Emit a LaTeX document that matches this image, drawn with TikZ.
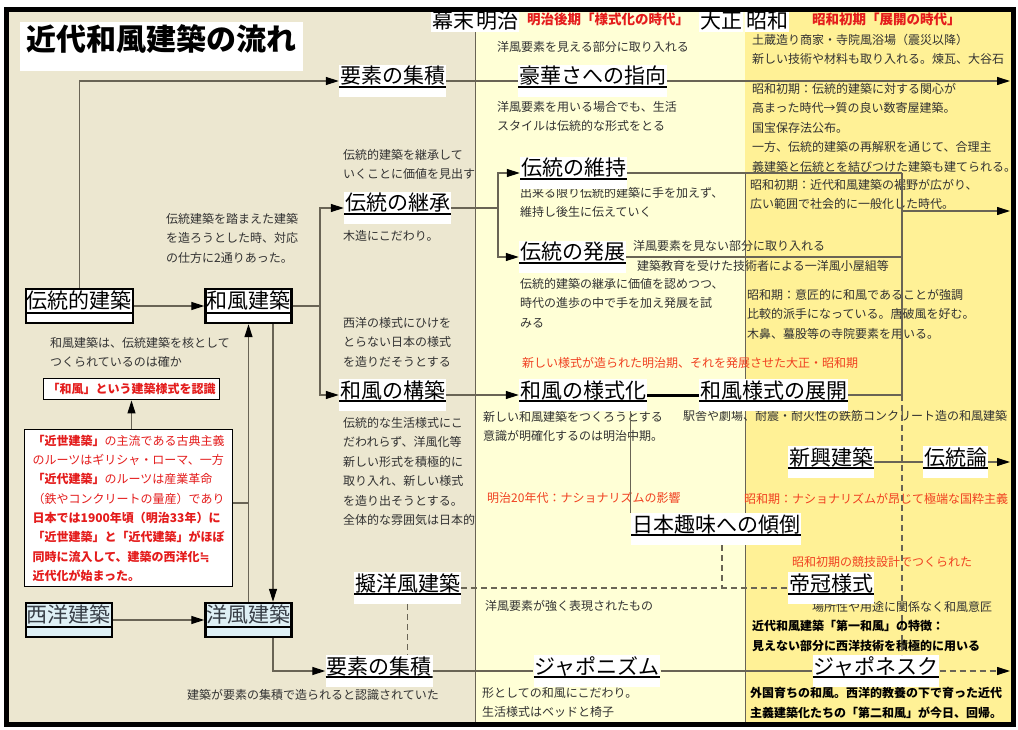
\documentclass[tikz,border=0pt]{standalone}
\usepackage{fontspec}
\setmainfont{Noto Sans CJK JP}
\newfontfamily\djv{DejaVu Sans}
\usetikzlibrary{arrows.meta,calc}
\definecolor{beige}{RGB}{236,231,208}
\definecolor{pale}{RGB}{255,255,214}
\definecolor{yel}{RGB}{255,241,150}
\definecolor{lgrey}{RGB}{105,100,85}
\definecolor{txt}{RGB}{50,50,50}
\definecolor{rd}{RGB}{228,28,28}
\definecolor{ord}{RGB}{240,64,32}
\definecolor{lblue}{RGB}{222,240,245}
\definecolor{bgrey}{RGB}{55,62,70}
\begin{document}
\begin{tikzpicture}[x=1pt,y=-1pt,
  nd/.style={fill=white, inner xsep=1pt, inner ysep=4pt, text height=15pt, text depth=9pt,
    font=\fontsize{21}{21}\selectfont,
    path picture={\draw[line width=1.6pt] ([yshift=10pt]path picture bounding box.south west) -- ([yshift=10pt]path picture bounding box.south east);}},
  bx/.style={draw=black, line width=2.4pt, fill=white, inner xsep=1pt, inner ysep=6pt, text height=13.5pt, text depth=8.5pt,
    font=\fontsize{21}{21}\selectfont,
    path picture={\draw[line width=1.4pt] ([yshift=10pt]path picture bounding box.south west) -- ([yshift=10pt]path picture bounding box.south east);}},
  bxb/.style={bx, fill=lblue, text=bgrey},
  era/.style={fill=white, inner sep=1pt, font=\fontsize{21}{21}\selectfont},
  hd/.style={anchor=west, inner sep=0pt, text=rd, font=\fontsize{13.5}{14}\selectfont\bfseries},
  ann/.style={anchor=north west, inner sep=0pt, align=left, text=txt, font=\fontsize{12}{19.5}\selectfont},
  annr/.style={ann, text=ord},
  annb/.style={ann, text=black, font=\fontsize{12}{19.5}\selectfont\bfseries},
  cn/.style={draw=lgrey, line width=1.1pt},
  dsh/.style={dash pattern=on 6pt off 4pt},
  ar/.style={cn, -{Triangle[length=13pt,width=8pt,color=black]}}
]
\useasboundingbox (0,0) rectangle (1018,730);
\fill[white] (0,0) rectangle (1018,730);
% background regions
\fill[beige] (6,10) rectangle (475,724);
\fill[pale] (475,10) rectangle (745,724);
\fill[yel] (745,10) rectangle (1013,724);
\draw[lgrey, line width=0.8pt] (475,12) -- (475,722);
\draw[lgrey, line width=0.8pt] (745,173) -- (745,722);

% title and era headings
\node[fill=white, inner xsep=2pt, inner ysep=0pt, text height=29pt, text depth=20pt, minimum width=283pt,
  font=\fontsize{30}{30}\selectfont\bfseries] (title) at (161.5,46.5) {近代和風建築の流れ};
\node[era] (bm) at (453,21) {幕末};
\node[era] (mj) at (497,21) {明治};
\node[hd] (h1) at (527,19) {明治後期「様式化の時代」};
\node[era] (ts) at (721,21) {大正};
\node[era] (sw) at (767,21) {昭和};
\node[hd] (h2) at (812,19) {昭和初期「展開の時代」};

% annotations
\node[ann] (t1) at (166,213) {伝統建築を踏まえた建築\\を造ろうとした時、対応\\の仕方に2通りあった。};
\node[ann] (t2) at (50,337) {和風建築は、伝統建築を核として\\つくられているのは確か};
\node[ann] (t5) at (343,149) {伝統的建築を継承して\\いくことに価値を見出す};
\node[ann] (t6) at (343,230) {木造にこだわり。};
\node[ann] (t7) at (343,317) {西洋の様式にひけを\\とらない日本の様式\\を造りだそうとする};
\node[ann] (t8) at (343,417) {伝統的な生活様式にこ\\だわれらず、洋風化等\\新しい形式を積極的に\\取り入れ、新しい様式\\を造り出そうとする。\\全体的な雰囲気は日本的};
\node[ann] (t9) at (497,41) {洋風要素を見える部分に取り入れる};
\node[ann] (t10) at (497,101) {洋風要素を用いる場合でも、生活\\スタイルは伝統的な形式をとる};
\node[ann] (t11) at (520,187) {出来る限り伝統的建築に手を加えず、\\維持し後生に伝えていく};
\node[ann] (t12) at (633,240) {洋風要素を見ない部分に取り入れる};
\node[ann] (t13) at (637,260) {建築教育を受けた技術者による一洋風小屋組等};
\node[ann] (t14) at (520,278) {伝統的建築の継承に価値を認めつつ、\\時代の進歩の中で手を加え発展を試\\みる};
\node[annr] (t15) at (522,357) {新しい様式が造られた明治期、それを発展させた大正・昭和期};
\node[ann] (t16) at (483,411) {新しい和風建築をつくろうとする\\意識が明確化するのは明治中期。};
\node[ann] (t17) at (683,410) {駅舎や劇場、耐震・耐火性の鉄筋コンクリート造の和風建築};
\node[annr] (t18) at (487,492) {明治20年代：ナショナリズムの影響};
\node[annr] (t19) at (744,493) {昭和期：ナショナリズムが昂じて極端な国粋主義};
\node[annr] (t20) at (792,556) {昭和初期の競技設計でつくられた};
\node[ann] (t21) at (812,601) {場所性や用途に関係なく和風意匠};
\node[annb] (t22) at (752,620) {近代和風建築「第一和風」の特徴：\\見えない部分に西洋技術を積極的に用いる};
\node[ann] (t23) at (485,600) {洋風要素が強く表現されたもの};
\node[ann] (t24) at (187,689) {建築が要素の集積で造られると認識されていた};
\node[ann] (t25) at (482,687) {形としての和風にこだわり。\\生活様式はベッドと椅子};
\node[annb] (t26) at (750,687) {外国育ちの和風。西洋的教養の下で育った近代\\主義建築化たちの「第二和風」が今日、回帰。};
\node[ann] (t27) at (752,34) {土蔵造り商家・寺院風浴場（震災以降）\\新しい技術や材料も取り入れる。煉瓦、大谷石};
\node[ann] (t28) at (752,83) {昭和初期：伝統的建築に対する関心が\\高まった時代→質の良い数寄屋建築。\\国宝保存法公布。\\一方、伝統的建築の再解釈を通じて、合理主\\義建築と伝統とを結びつけた建築も建てられる。};
\node[ann] (t29) at (750,179) {昭和初期：近代和風建築の裾野が広がり、\\広い範囲で社会的に一般化した時代。};
\node[ann] (t30) at (747,289) {昭和期：意匠的に和風であることが強調\\比較的派手になっている。唐破風を好む。\\木鼻、蟇股等の寺院要素を用いる。};

% red boxes
\node[draw=black, line width=1.4pt, fill=white, inner xsep=4pt, inner ysep=5pt, text=rd,
  font=\fontsize{12}{13}\selectfont\bfseries] (ab) at (131.5,389) {「和風」という建築様式を認識};
\node[draw=black, line width=1.4pt, fill=white, anchor=north west, inner xsep=5pt, inner ysep=4pt,
  minimum width=208pt, minimum height=157pt, align=left, text=rd, font=\fontsize{12}{19.3}\selectfont] (rb) at (24,429)
 {{\bfseries 「近世建築」}の主流である古典主義\\
 のルーツはギリシャ・ローマ、一方\\
 {\bfseries 「近代建築」}のルーツは産業革命\\
 （鉄やコンクリートの量産）であり\\
 {\bfseries 日本では1900年頃（明治33年）に}\\
 {\bfseries 「近世建築」と「近代建築」がほぼ}\\
 {\bfseries 同時に流入して、建築の西洋化{\djv\bfseries ≒}}\\
 {\bfseries 近代化が始まった。}};

% left boxes
\node[bx] (b1) at (79.5,306) {伝統的建築};
\node[bx] (b2) at (248.5,306) {和風建築};
\node[bxb] (b3) at (69,620) {西洋建築};
\node[bxb] (b4) at (248.5,620) {洋風建築};

% main nodes
\node[nd] (n1) at (392.5,81) {要素の集積};
\node[nd] (n2) at (592.5,81) {豪華さへの指向};
\node[nd] (n3) at (397.5,208) {伝統の継承};
\node[nd] (n4) at (573.5,173) {伝統の維持};
\node[nd] (n5) at (572.5,257) {伝統の発展};
\node[nd] (n6) at (392.5,395) {和風の構築};
\node[nd] (n7) at (583,395) {和風の様式化};
\node[nd] (n8) at (773.5,395) {和風様式の展開};
\node[nd] (n9) at (831,462) {新興建築};
\node[nd] (n10) at (955.5,462) {伝統論};
\node[nd] (n11) at (716,529) {日本趣味への傾倒};
\node[nd] (n12) at (831,588) {帝冠様式};
\node[nd] (n13) at (407.5,588) {擬洋風建築};
\node[nd] (n14) at (379,671) {要素の集積};
\node[nd] (n15) at (597,671) {ジャポニズム};
\node[nd] (n16) at (876,671) {ジャポネスク};

% coordinates
\coordinate (j1) at (320,306);
\coordinate (j2) at (498,208);
\coordinate (j3) at (902,173);
\coordinate (j4) at (902,211);
\coordinate (j5) at (902,395);
\coordinate (j6) at (902,655);
\coordinate (j7) at (273,671);
\coordinate (j8) at (248.5,503);
\coordinate (d1) at (722,588);
\coordinate (e1) at (1010,81);
\coordinate (e2) at (1010,211);
\coordinate (e3) at (1010,462);
\coordinate (e4) at (1010,671);

% connectors
\draw[ar] (b1.north) |- (n1.west);
\draw[ar] (b1.east) -- (b2.west);
\draw[cn] (b2.east) -- (j1);
\draw[ar] (j1) |- (n3.west);
\draw[ar] (j1) |- (n6.west);
\draw[cn] (n1.east) -- (n2.west);
\draw[ar] (n2.east) -- (e1);
\draw[cn] (n3.east) -- (j2);
\draw[ar] (j2) |- (n4.west);
\draw[ar] (j2) |- (n5.west);
\draw[cn] (n4.east) -- (j3);
\draw[cn] (j3) -- (j5);
\draw[ar] (j4) -- (e2);
\draw[cn] (n5.east) -- (n5.east -| j3);
\draw[cn] (n8.east) -- (j5);
\draw[cn, dsh] (j5) -- (j6);
\draw[ar] (n6.east) -- (n7.west);
\draw[line width=3pt] (n7.east) -- (n8.west);
\draw[cn] (n9.east) -- (n10.west);
\draw[ar] (n10.east) -- (e3);
\draw[cn] (n7.south -| n11.north west) -- (n11.north west);
\draw[cn, dsh] (n11.south -| d1) -- (d1);
\draw[cn, dsh] (n13.east) -- (n12.west);
\draw[cn, dsh] (n13.south) -- (n13.south |- n14.north);
\draw[ar] (b4.south -| j7) |- (n14.west);
\draw[cn] (n14.east) -- (n15.west);
\draw[cn] (n15.east) -- (n16.west);
\draw[ar, dsh] (n16.east) -- (e4);
\draw[ar] (b3.east) -- (b4.west);
\draw[ar] (b2.south -| j7) -- (b4.north -| j7);
\draw[ar] (b4.north) -- (b2.south);
\draw[cn] (rb.east |- j8) -- (j8);
\draw[ar] (rb.north -| ab.south) -- (ab.south);

% frame
\draw[line width=5pt] (6,10) rectangle (1013,724);
\end{tikzpicture}
\end{document}
